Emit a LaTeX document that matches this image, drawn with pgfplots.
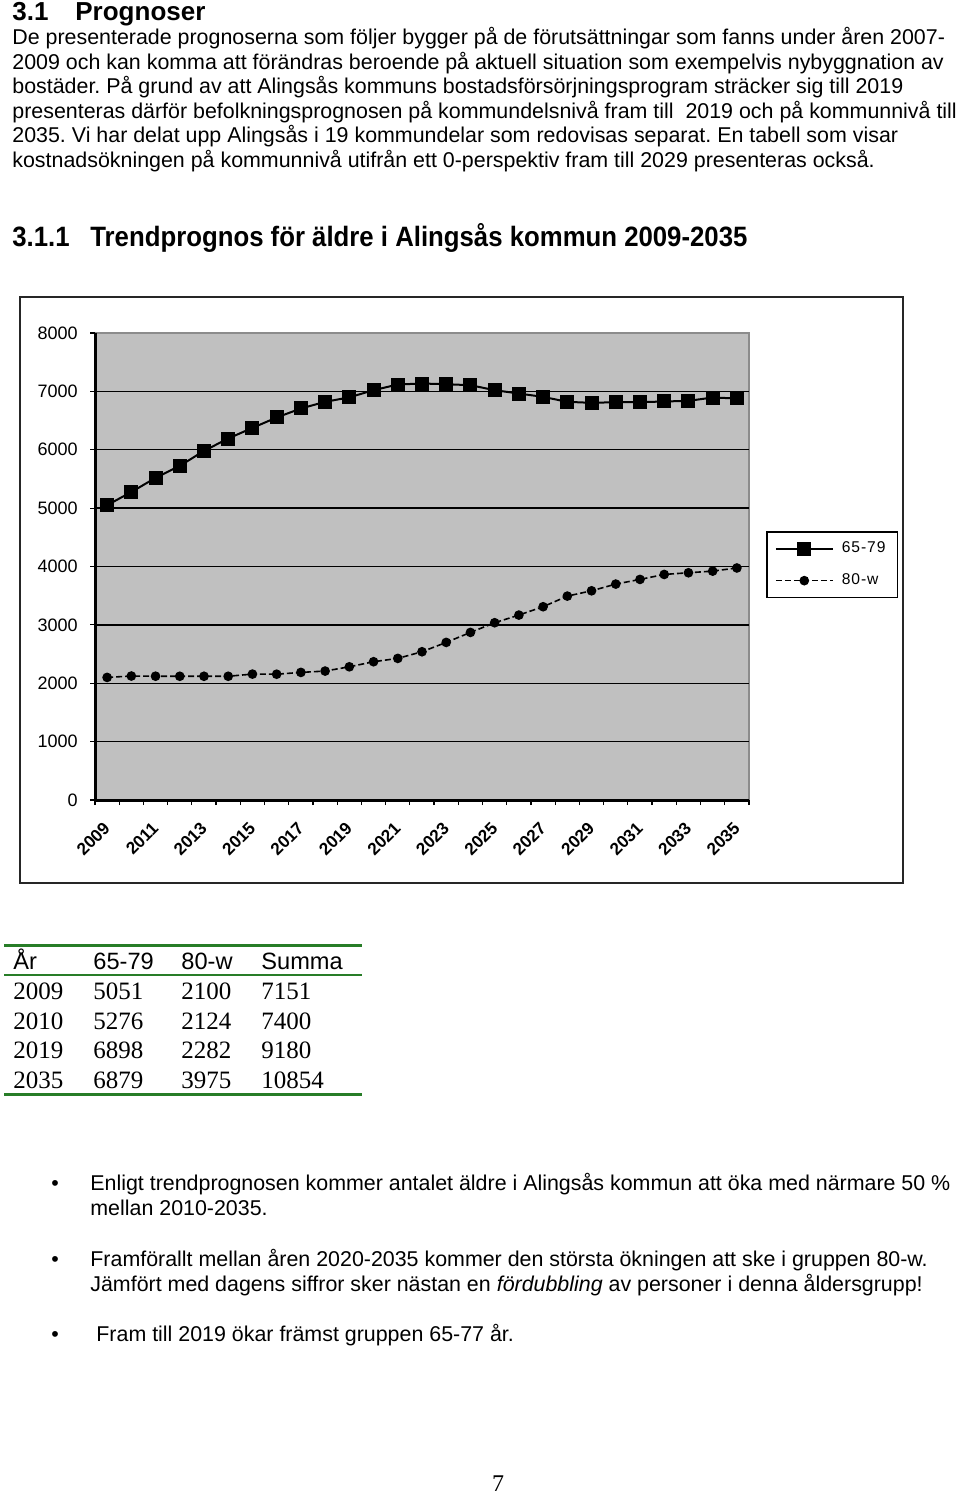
\documentclass[border=0pt]{standalone}
\usepackage{fontspec}
\setmainfont{Liberation Sans}
\newfontfamily\timesfont{Liberation Serif}
\newfontfamily\headfont[FakeStretch=0.92]{Liberation Sans}
\usepackage{pgfplots}
\usepackage{pgfplotstable}
\pgfplotsset{compat=1.18}
\definecolor{plotgray}{RGB}{192,192,192}
\definecolor{tabgreen}{RGB}{40,125,40}

\pgfplotstableread{
year a b
2009 5051 2100
2010 5276 2124
2011 5519 2121
2012 5724 2120
2013 5981 2120
2014 6193 2120
2015 6375 2157
2016 6553 2155
2017 6707 2186
2018 6821 2209
2019 6898 2282
2020 7021 2369
2021 7118 2426
2022 7135 2540
2023 7123 2700
2024 7106 2871
2025 7021 3037
2026 6963 3168
2027 6906 3311
2028 6821 3493
2029 6804 3584
2030 6815 3699
2031 6815 3779
2032 6827 3864
2033 6838 3893
2034 6895 3921
2035 6879 3975
}\datatable

\newcommand\body{\fontsize{10.7}{12}\selectfont}

\begin{document}
\frenchspacing
\begin{tikzpicture}
\begin{scope}[x=0.5pt,y=-0.5pt]
\path[use as bounding box, fill=white] (0,0) rectangle (960,1495);
\tikzset{t/.style={anchor=base west, inner sep=0pt}}
% heading
\node[t, font=\fontsize{13}{15}\selectfont\bfseries] at (12,20) {3.1};
\node[t, font=\fontsize{13}{15}\selectfont\bfseries] at (75,20) {Prognoser};
% body text
\node[t, font=\body] at (12,44.5) {De presenterade prognoserna som följer bygger på de förutsättningar som fanns under åren 2007-};
\node[t, font=\body] at (12,69) {2009 och kan komma att förändras beroende på aktuell situation som exempelvis nybyggnation av};
\node[t, font=\body] at (12,93.5) {bostäder. På grund av att Alingsås kommuns bostadsförsörjningsprogram sträcker sig till 2019};
\node[t, font=\body] at (12,118) {presenteras därför befolkningsprognosen på kommundelsnivå fram till\ \ 2019 och på kommunnivå till};
\node[t, font=\body] at (12,142.5) {2035. Vi har delat upp Alingsås i 19 kommundelar som redovisas separat. En tabell som visar};
\node[t, font=\body] at (12,167) {kostnadsökningen på kommunnivå utifrån ett 0-perspektiv fram till 2029 presenteras också.};
% sub heading
\node[t, font=\headfont\fontsize{14}{16}\selectfont\bfseries] at (12,246) {3.1.1};
\node[t, font=\headfont\fontsize{14}{16}\selectfont\bfseries] at (90,246) {Trendprognos för äldre i Alingsås kommun 2009-2035};
% chart frame
\draw[line width=1pt, black!85] (20,297) rectangle (903,883);
% table
\draw[tabgreen, line width=1.5pt] (4,945) -- (362,945);
\draw[tabgreen, line width=0.8pt] (4,975) -- (362,975);
\draw[tabgreen, line width=1.5pt] (4,1094) -- (362,1094);
\tikzset{h/.style={t, font=\fontsize{11.8}{14}\selectfont}, r/.style={t, font=\timesfont\fontsize{12.5}{14}\selectfont}}
\node[h] at (13,969) {År};
\node[h] at (93,969) {65-79};
\node[h] at (181,969) {80-w};
\node[h] at (261,969) {Summa};
\node[r] at (13,999.5) {2009}; \node[r] at (93,999.5) {5051}; \node[r] at (181,999.5) {2100}; \node[r] at (261,999.5) {7151};
\node[r] at (13,1029.5) {2010}; \node[r] at (93,1029.5) {5276}; \node[r] at (181,1029.5) {2124}; \node[r] at (261,1029.5) {7400};
\node[r] at (13,1058.5) {2019}; \node[r] at (93,1058.5) {6898}; \node[r] at (181,1058.5) {2282}; \node[r] at (261,1058.5) {9180};
\node[r] at (13,1088.5) {2035}; \node[r] at (93,1088.5) {6879}; \node[r] at (181,1088.5) {3975}; \node[r] at (261,1088.5) {10854};
% bullets
\node[t, font=\body] at (51,1190) {•};
\node[t, font=\body] at (90,1190) {Enligt trendprognosen kommer antalet äldre i Alingsås kommun att öka med närmare 50 \%};
\node[t, font=\body] at (90,1215) {mellan 2010-2035.};
\node[t, font=\body] at (51,1266) {•};
\node[t, font=\body] at (90,1266) {Framförallt mellan åren 2020-2035 kommer den största ökningen att ske i gruppen 80-w.};
\node[t, font=\body] at (90,1291) {Jämfört med dagens siffror sker nästan en \textit{fördubbling} av personer i denna åldersgrupp!};
\node[t, font=\body] at (51,1341) {•};
\node[t, font=\body] at (96,1341) {Fram till 2019 ökar främst gruppen 65-77 år.};
% page number
\node[anchor=base, inner sep=0pt, font=\timesfont\fontsize{12}{14}\selectfont] at (498,1491) {7};
\end{scope}

\begin{axis}[
  at={(47.5pt,-400pt)}, anchor=south west,
  scale only axis, width=327pt, height=233.5pt,
  xmin=2008.5, xmax=2035.5, ymin=0, ymax=8000,
  axis lines=left,
  axis line style={-, line width=1.5pt, black},
  axis background/.style={fill=plotgray, draw=black!45, line width=0.6pt},
  tick align=outside,
  major tick length=2.5pt,
  tick style={black, line width=0.6pt},
  ytick={0,1000,...,7000},
  yticklabels={0,1000,2000,3000,4000,5000,6000,7000},
  extra y ticks={8000}, extra y tick labels={8000},
  extra y tick style={grid=none},
  ymajorgrids,
  major grid style={black, line width=0.65pt},
  xtick={2008.5,2009.5,...,2035.5}, xticklabels={},
  extra x ticks={2009,2011,...,2035},
  extra x tick labels={2009,2011,2013,2015,2017,2019,2021,2023,2025,2027,2029,2031,2033,2035},
  extra x tick style={major tick length=0pt, grid=none},
  /pgf/number format/assume math mode=true,
  tick label style={font=\fontsize{9}{10}\selectfont},
  yticklabel style={inner sep=0pt, xshift=-6pt},
  xticklabel style={inner sep=0pt, yshift=-12.5pt, rotate=45, anchor=east, font=\fontsize{8.6}{10}\selectfont\bfseries},
  legend style={at={(1.026,0.576)}, anchor=north west, draw=black, line width=0.8pt, fill=white,
    font=\fontsize{7.8}{9}\selectfont\addfontfeature{LetterSpace=6},
    inner xsep=4pt, inner ysep=3pt, row sep=5pt,
    /tikz/every odd column/.append style={column sep=2pt}},
  legend cell align=left,
  legend image code/.code={\draw[mark repeat=2,mark phase=2,#1] plot coordinates {(0pt,0pt) (14.25pt,0pt) (28.5pt,0pt)};},
]
\addplot[black, line width=1pt, mark=square*, mark size=3pt, mark options={solid}] table[x=year,y=a]{\datatable};
\addlegendentry{65-79}
\addplot[black, line width=0.8pt, dash pattern=on 3pt off 1.5pt, mark=*, mark size=2pt, mark options={solid}] table[x=year,y=b]{\datatable};
\addlegendentry{80-w}
\end{axis}
\end{tikzpicture}
\end{document}
